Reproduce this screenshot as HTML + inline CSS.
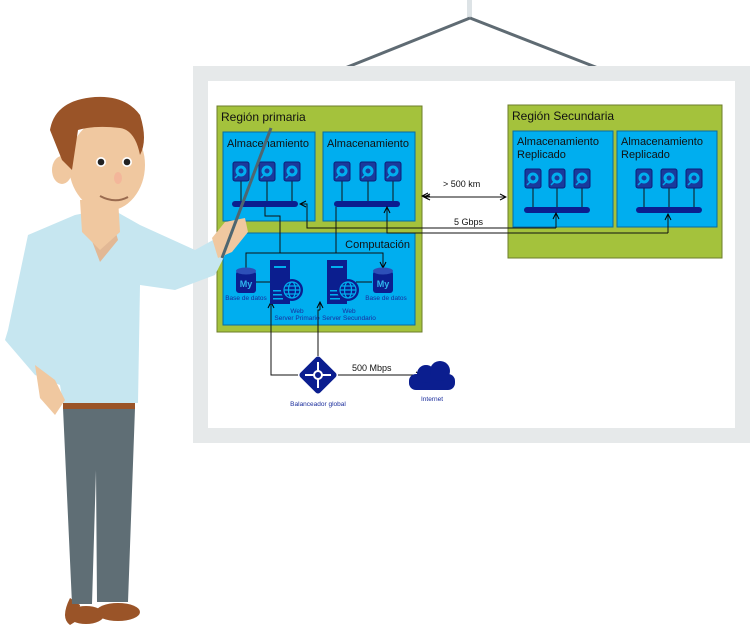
<!DOCTYPE html>
<html><head><meta charset="utf-8"><style>
html,body{margin:0;padding:0;background:#fff;width:750px;height:629px;overflow:hidden;font-family:"Liberation Sans",sans-serif}
</style></head><body>
<svg width="750" height="629" viewBox="0 0 750 629" xmlns="http://www.w3.org/2000/svg" font-family="Liberation Sans, sans-serif">
<defs>
<g id="disk"><rect x="-8" y="-10" width="16" height="19" rx="2" fill="#1a3a9c" stroke="#0b1e7a" stroke-width="1"/><circle cx="0" cy="-1" r="5.5" fill="#00aeef"/><circle cx="0" cy="-1" r="2.5" fill="#1a3a9c"/><path d="M-6 6 L-1 1" stroke="#00aeef" stroke-width="1.5"/></g>
<g id="db"><rect x="-10" y="-10" width="20" height="22" rx="3" fill="#0b1e8f"/><ellipse cx="0" cy="-10" rx="10" ry="3.5" fill="#2d4fb8"/><text x="0" y="6" font-size="9" font-weight="bold" fill="#2fb6ee" text-anchor="middle">My</text></g>
<g id="srv"><rect x="0" y="0" width="20" height="44" fill="#0b1e8f"/><rect x="4" y="6" width="12" height="2" fill="#00aeef"/><rect x="3" y="30" width="10" height="1.5" fill="#00aeef"/><rect x="3" y="34" width="10" height="1.5" fill="#00aeef"/><rect x="3" y="38" width="10" height="1.5" fill="#00aeef"/></g>
<g id="globe"><circle r="11" fill="#0b1e8f"/><circle r="8" fill="none" stroke="#00aeef" stroke-width="1.2"/><ellipse rx="3.5" ry="8" fill="none" stroke="#00aeef" stroke-width="1.2"/><path d="M-8 0H8M-7 -4H7M-7 4H7" stroke="#00aeef" stroke-width="1.2"/></g>
<marker id="ar" markerWidth="8" markerHeight="8" refX="7" refY="4" orient="auto"><path d="M1 1 L7 4 L1 7" fill="none" stroke="#000" stroke-width="1"/></marker>
</defs>
<!-- hanger -->
<rect x="467" y="0" width="5" height="19" fill="#dde3e6"/>
<path d="M470 18 L345 68 M470 18 L598 68" stroke="#5f6b73" stroke-width="3" fill="none"/>
<!-- board -->
<rect x="193" y="66" width="557" height="377" fill="#e6e9ea"/>
<rect x="208" y="81" width="527" height="347" fill="#fff"/>
<!-- region primaria -->
<rect x="217" y="106" width="205" height="226" fill="#a4c23c" stroke="#6d7d2b"/>
<text x="221" y="121" font-size="12" fill="#111">Región primaria</text>
<rect x="223" y="132" width="92" height="89" fill="#00aeef" stroke="#0a6aa0"/>
<rect x="323" y="132" width="92" height="89" fill="#00aeef" stroke="#0a6aa0"/>
<text x="227" y="147" font-size="11" fill="#111">Almacenamiento</text>
<text x="327" y="147" font-size="11" fill="#111">Almacenamiento</text>
<rect x="223" y="233" width="192" height="92" fill="#00aeef" stroke="#0a6aa0"/>
<text x="410" y="248" font-size="11" fill="#111" text-anchor="end">Computación</text>
<!-- region secundaria -->
<rect x="508" y="105" width="214" height="153" fill="#a4c23c" stroke="#6d7d2b"/>
<text x="512" y="120" font-size="12" fill="#111">Región Secundaria</text>
<rect x="513" y="131" width="100" height="96" fill="#00aeef" stroke="#0a6aa0"/>
<rect x="617" y="131" width="100" height="96" fill="#00aeef" stroke="#0a6aa0"/>
<text x="517" y="145" font-size="11" fill="#111">Almacenamiento</text>
<text x="517" y="158" font-size="11" fill="#111">Replicado</text>
<text x="621" y="145" font-size="11" fill="#111">Almacenamiento</text>
<text x="621" y="158" font-size="11" fill="#111">Replicado</text>
<!-- disks + bars -->
<g stroke="#111" stroke-width="1">
<path d="M241 180V202M267 180V202M292 180V202M342 180V202M368 180V202M393 180V202M533 186V210M557 186V210M582 186V210M644 186V210M669 186V210M694 186V210"/>
</g>
<rect x="232" y="201" width="66" height="6" rx="3" fill="#0b1e8f"/>
<rect x="334" y="201" width="66" height="6" rx="3" fill="#0b1e8f"/>
<rect x="524" y="207" width="66" height="6" rx="3" fill="#0b1e8f"/>
<rect x="636" y="207" width="66" height="6" rx="3" fill="#0b1e8f"/>
<use href="#disk" x="241" y="172"/><use href="#disk" x="267" y="172"/><use href="#disk" x="292" y="172"/>
<use href="#disk" x="342" y="172"/><use href="#disk" x="368" y="172"/><use href="#disk" x="393" y="172"/>
<use href="#disk" x="533" y="179"/><use href="#disk" x="557" y="179"/><use href="#disk" x="582" y="179"/>
<use href="#disk" x="644" y="179"/><use href="#disk" x="669" y="179"/><use href="#disk" x="694" y="179"/>
<!-- connectors -->
<g stroke="#111" stroke-width="1" fill="none">
<path d="M265 207V216H280V253"/>
<path d="M336 207V253"/>
<path d="M246 270V253H383V268" marker-end="url(#ar)"/>
<path d="M556 228H307V204H300" marker-end="url(#ar)"/>
<path d="M556 228V213" marker-end="url(#ar)"/>
<path d="M668 233H387V207" marker-end="url(#ar)"/>
<path d="M668 233V214" marker-end="url(#ar)"/>
<path d="M430 196H422" marker-end="url(#ar)"/>
<path d="M440 197H506" marker-end="url(#ar)"/>
<path d="M440 197H424" marker-end="url(#ar)"/>
<path d="M256 282H270M356 282H372"/>
<path d="M298 375H271V302" marker-end="url(#ar)"/>
<path d="M318 356V310H320" />
<path d="M320 310V302" marker-end="url(#ar)"/>
<path d="M338 375H422" marker-end="url(#ar)"/>
</g>
<text x="443" y="187" font-size="9" fill="#111">&gt; 500 km</text>
<text x="454" y="225" font-size="9" fill="#111">5 Gbps</text>
<!-- compute icons -->
<use href="#db" x="246" y="281"/><use href="#db" x="383" y="281"/>
<use href="#srv" x="270" y="260"/><use href="#srv" x="327" y="260"/>
<use href="#globe" x="292" y="290"/><use href="#globe" x="348" y="290"/>
<g font-size="6.5" fill="#1a2d9c" text-anchor="middle">
<text x="246" y="300">Base de datos</text><text x="386" y="300">Base de datos</text>
<text x="297" y="313">Web</text><text x="297" y="320">Server Primario</text>
<text x="349" y="313">Web</text><text x="349" y="320">Server Secundario</text>
</g>
<!-- load balancer -->
<rect x="304" y="361" width="28" height="28" rx="3" fill="#0b1e8f" transform="rotate(45 318 375)"/>
<g stroke="#fff" stroke-width="2" fill="#fff"><path d="M318 362V388M305 375H331" /><circle cx="318" cy="375" r="4" fill="#0b1e8f"/></g>
<text x="318" y="406" font-size="6.5" fill="#1a2d9c" text-anchor="middle">Balanceador global</text>
<text x="352" y="371" font-size="9" fill="#111">500 Mbps</text>
<!-- cloud -->
<g fill="#0b1e8f"><rect x="409" y="374" width="46" height="16" rx="7"/><circle cx="426" cy="374" r="9"/><circle cx="440" cy="371" r="10"/></g>
<text x="432" y="401" font-size="6.5" fill="#1a2d9c" text-anchor="middle">Internet</text>
<!-- person -->
<path d="M70 598 L80 605 L78 620 L70 625 Q60 618 70 598Z" fill="#9a5428"/>
<ellipse cx="86" cy="615" rx="18" ry="9" fill="#9a5428"/>
<ellipse cx="118" cy="612" rx="22" ry="9" fill="#9a5428"/>
<path d="M63 408 L135 408 L128 602 L97 602 L96 470 L92 604 L72 604 Z" fill="#5f6e75"/>
<rect x="63" y="403" width="72" height="6" fill="#9a5428"/>
<path d="M5 340 L8 330 L28 235 L75 215 L110 208 L140 225 L195 250 L213 240 L225 255 L215 275 L175 290 L140 285 L138 403 L63 403 L60 385 L35 375 Z" fill="#c6e6f0"/>
<path d="M35 365 L55 380 L65 400 L55 415 L40 398 Z" fill="#f0c8a0"/>
<path d="M82 215 L110 212 L118 240 L100 262 Z" fill="#e2b895"/>
<path d="M80 200 L118 198 L120 232 L100 250 L82 232 Z" fill="#f0c8a0"/>
<path d="M212 238 L225 222 L245 218 L248 232 L232 252 L218 258 Z" fill="#f0c8a0"/>
<ellipse cx="107" cy="165" rx="38" ry="46" fill="#f0c8a0"/>
<ellipse cx="62" cy="170" rx="10" ry="14" fill="#f0c8a0"/>
<path d="M50 130 Q55 100 95 97 Q125 95 140 115 Q148 140 140 155 Q135 130 120 128 Q95 125 78 130 L72 170 L62 160 Z" fill="#9a5428"/>
<circle cx="101" cy="162" r="5" fill="#fff"/><circle cx="101" cy="162" r="3.3" fill="#222"/>
<circle cx="127" cy="162" r="5" fill="#fff"/><circle cx="127" cy="162" r="3.3" fill="#222"/>
<ellipse cx="118" cy="178" rx="4" ry="6" fill="#f3b69a"/>
<path d="M100 196 Q115 204 128 197" stroke="#9a6b4f" stroke-width="2" fill="none"/>
<path d="M222 258 L271 128" stroke="#4e6670" stroke-width="3"/>
</svg>
</body></html>
